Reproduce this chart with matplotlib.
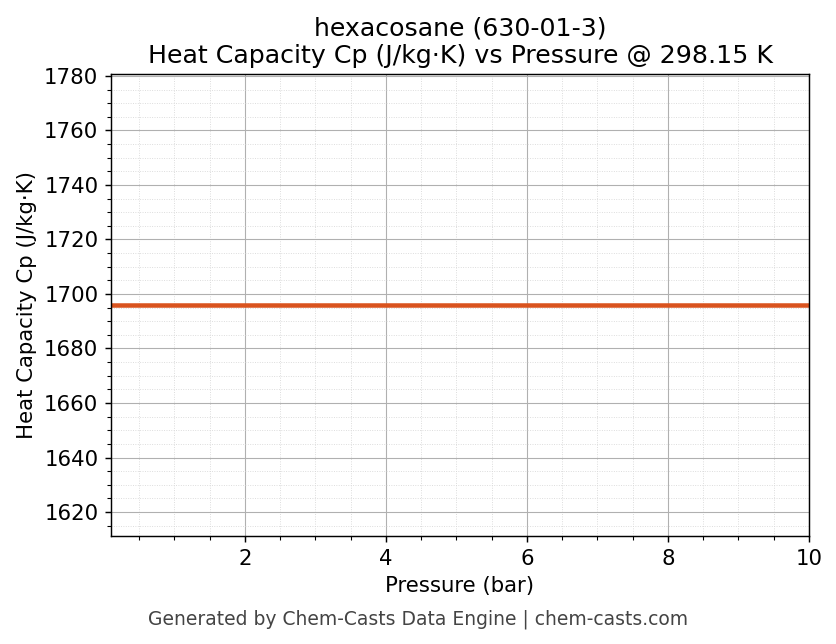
import matplotlib
matplotlib.use("Agg")
import matplotlib.pyplot as plt
from matplotlib.ticker import AutoMinorLocator

plt.rcParams["font.size"] = 11.8

# data
pressure = [0.1, 1.0, 2.0, 3.0, 4.0, 5.0, 6.0, 7.0, 8.0, 9.0, 10.0]
cp = [1696.0] * len(pressure)

fig, ax = plt.subplots(figsize=(836 / 130, 644 / 130), dpi=130)
ax.plot(pressure, cp, color="#d9531e", linewidth=2.5)

ax.set_xlim(0.1, 10)
ax.set_ylim(1611.2, 1780.7)
ax.set_yticks(range(1620, 1781, 20))
ax.set_xticks([2, 4, 6, 8, 10])
ax.xaxis.set_minor_locator(AutoMinorLocator(4))
ax.yaxis.set_minor_locator(AutoMinorLocator(4))
ax.grid(True, which="major", color="#b0b0b0", linewidth=0.6)
ax.grid(True, which="minor", color="#d8d8d8", linestyle=":", linewidth=0.5)

ax.set_title("hexacosane (630-01-3)\nHeat Capacity Cp (J/kg·K) vs Pressure @ 298.15 K", fontsize=14)
ax.set_xlabel("Pressure (bar)")
ax.set_ylabel("Heat Capacity Cp (J/kg·K)")

fig.subplots_adjust(left=111 / 836, right=809 / 836, top=1 - 74 / 644, bottom=1 - 536 / 644)
fig.text(0.5, 0.03, "Generated by Chem-Casts Data Engine | chem-casts.com",
         ha="center", fontsize=10.4, color="#444444")

fig.savefig("out.png", dpi=130)
